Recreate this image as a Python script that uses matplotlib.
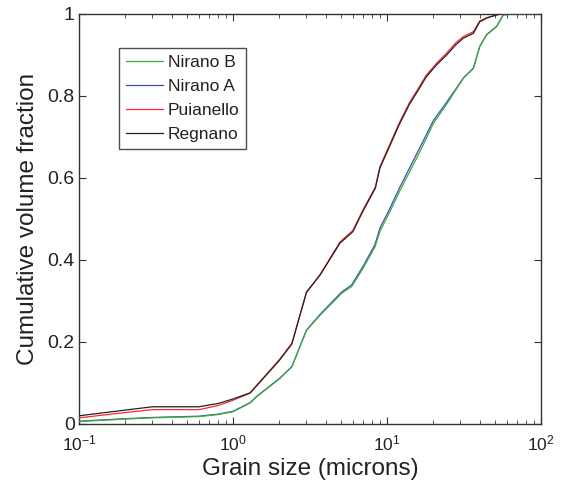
import numpy as np
import matplotlib
matplotlib.use('Agg')
import matplotlib.pyplot as plt
from matplotlib.ticker import LogLocator, NullFormatter

plt.rcParams['font.family'] = ['Liberation Sans', 'DejaVu Sans']

# grain size (microns) and cumulative volume fraction
x_nb = [0.1, 0.2, 0.3, 0.6, 0.8, 1.0, 1.29, 1.43, 2.0, 2.41, 3.0, 3.67, 4.59, 5.08, 5.89,
        7.0, 8.36, 9.0, 10.2, 12.1, 14.8, 16.4, 20.0, 24.4, 28.0, 31.3, 36.4, 40.0, 44.4,
        51.5, 56.9, 65.0, 100.0]
nirano_b = [0.006, 0.012, 0.015, 0.018, 0.023, 0.030, 0.051, 0.067, 0.110, 0.139, 0.228, 0.265,
            0.302, 0.319, 0.335, 0.380, 0.432, 0.470, 0.510, 0.568, 0.632, 0.665, 0.733, 0.780,
            0.815, 0.843, 0.867, 0.920, 0.949, 0.969, 0.998, 1.0, 1.0]
nirano_a = [0.007, 0.013, 0.016, 0.019, 0.024, 0.031, 0.052, 0.068, 0.111, 0.140, 0.229, 0.267,
            0.305, 0.322, 0.339, 0.385, 0.438, 0.478, 0.518, 0.577, 0.642, 0.675, 0.740, 0.785,
            0.817, 0.844, 0.868, 0.921, 0.950, 0.970, 0.998, 1.0, 1.0]

x_re = [0.1, 0.2, 0.3, 0.6, 0.8, 1.0, 1.29, 1.43, 2.0, 2.41, 3.0, 3.67, 4.95, 6.0, 7.0, 8.4,
        9.0, 10.2, 12.0, 14.0, 16.0, 18.0, 21.0, 24.4, 28.0, 31.3, 36.4, 40.0, 44.4, 47.0,
        54.0, 65.0, 100.0]
regnano = [0.020, 0.034, 0.042, 0.042, 0.050, 0.061, 0.076, 0.094, 0.155, 0.195, 0.322, 0.363,
           0.441, 0.469, 0.520, 0.575, 0.625, 0.670, 0.730, 0.780, 0.815, 0.847, 0.876, 0.900,
           0.925, 0.941, 0.953, 0.981, 0.990, 0.993, 1.0, 1.0, 1.0]
puianello = [0.015, 0.028, 0.035, 0.035, 0.045, 0.058, 0.075, 0.095, 0.157, 0.197, 0.320, 0.364,
             0.444, 0.472, 0.523, 0.578, 0.628, 0.674, 0.734, 0.784, 0.819, 0.851, 0.880, 0.905,
             0.930, 0.945, 0.957, 0.983, 0.991, 0.994, 1.0, 1.0, 1.0]

fig = plt.figure(figsize=(5.62, 4.83), dpi=100)
ax = fig.add_axes([79 / 562, 59 / 483, 462 / 562, 410 / 483])

ax.semilogx(x_nb, nirano_b, color='#3cae3c', lw=0.9, label='Nirano B', zorder=4)
ax.semilogx(x_nb, nirano_a, color='#3a4fb5', lw=0.9, label='Nirano A', zorder=3)
ax.semilogx(x_re, puianello, color='#ff2a2a', lw=0.9, label='Puianello', zorder=3)
ax.semilogx(x_re, regnano, color='#222222', lw=0.9, label='Regnano', zorder=4)

ax.set_xlim(0.1, 100)
ax.set_ylim(0, 1)
ax.set_yticks([0, 0.2, 0.4, 0.6, 0.8, 1.0])
ax.set_yticklabels(['0', '0.2', '0.4', '0.6', '0.8', '1'])
ax.xaxis.set_minor_locator(LogLocator(base=10, subs=np.arange(2, 10)))
ax.xaxis.set_minor_formatter(NullFormatter())
ax.tick_params(which='both', direction='in', top=True, right=True, color='#333333',
               labelcolor='#222222')
ax.tick_params(axis='y', labelsize=14, pad=3)
ax.tick_params(axis='x', labelsize=12.5, pad=7)
ax.tick_params(which='major', length=5, width=0.8)
ax.tick_params(which='minor', length=3, width=0.6)
for s in ax.spines.values():
    s.set_linewidth(1.0)
    s.set_color('#333333')

ax.set_xlabel('Grain size (microns)', fontsize=17.5, labelpad=3, color='#222222')
ax.set_ylabel('Cumulative volume fraction', fontsize=17.5, labelpad=6, color='#222222')

leg = ax.legend(loc='upper left', bbox_to_anchor=(0.087, 0.917), fontsize=12.5,
                frameon=True, fancybox=False, borderaxespad=0, handlelength=2.1,
                handletextpad=0.3, labelspacing=0.5, borderpad=0.4)
leg.get_frame().set_edgecolor('#222222')
leg.get_frame().set_linewidth(1.0)
for t in leg.get_texts():
    t.set_color('#222222')

fig.savefig('out.png', dpi=100)
